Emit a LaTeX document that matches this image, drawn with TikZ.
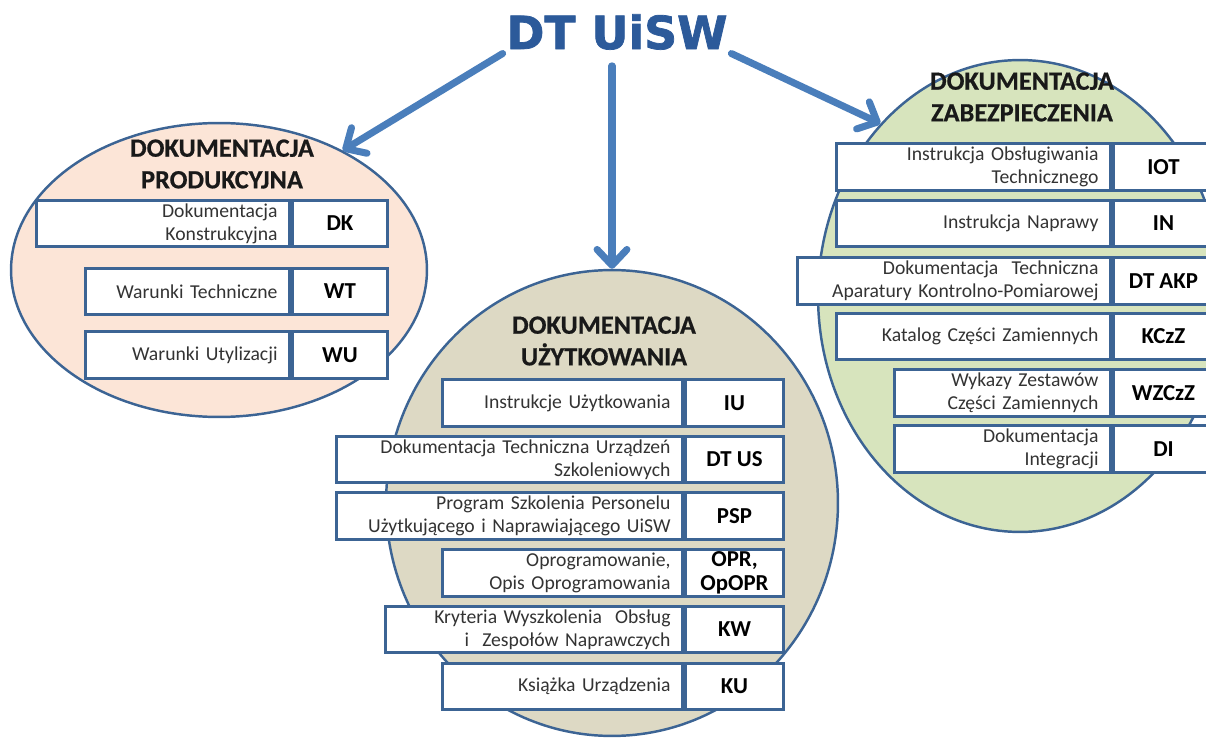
\documentclass[tikz,border=0pt]{standalone}
\usepackage{fontspec}
\setmainfont{Carlito}
\newfontfamily\titlefont{DejaVu Sans}[BoldFeatures={FakeBold=1.6}]
\newfontfamily\headfont{Carlito}[BoldFeatures={FakeBold=0.6}]
\usetikzlibrary{shapes.geometric, positioning, arrows.meta}

\definecolor{arrowblue}{HTML}{4A7EBB}
\definecolor{edgeblue}{HTML}{3C6494}
\definecolor{titleblue}{HTML}{2C5A9A}
\definecolor{prodfill}{HTML}{FCE5D7}
\definecolor{uzytfill}{HTML}{DDD9C4}
\definecolor{zabfill}{HTML}{D7E4BD}

\begin{document}
\begin{tikzpicture}[x=0.02cm, y=-0.02cm,
  area/.style={ellipse, draw=edgeblue, line width=1.4pt, inner sep=0pt},
  head/.style={align=center, text=black!90, font=\headfont\bfseries\fontsize{15}{18}\selectfont},
  txt/.style={rectangle, draw=edgeblue, fill=white, line width=1.7pt, anchor=east,
    minimum height=0.93cm, inner ysep=0pt, inner xsep=0.24cm, minimum width=#1,
    text width=#1-0.48cm, align=right, text=black!80, font=\fontsize{11.2}{13}\selectfont},
  abbr/.style={rectangle, draw=edgeblue, fill=white, line width=1.7pt,
    minimum height=0.93cm, inner sep=0pt, minimum width=#1, align=center,
    font=\bfseries\fontsize{13}{13.5}\selectfont},
  link/.style={draw=arrowblue, line width=4pt, line cap=round,
    -{Straight Barb[length=9pt, width=17pt, round]}}]

\useasboundingbox (0,0) rectangle (1206,749);
\clip (0,0) rectangle (1206,749);

\node[font=\titlefont\bfseries\fontsize{26}{30}\selectfont, text=titleblue, inner sep=2pt] (dt) at (617,32) {DT UiSW};

\node[area, fill=prodfill, minimum width=8.32cm, minimum height=5.88cm] (prod) at (219,270) {};
\node[area, fill=uzytfill, minimum width=9.04cm, minimum height=9.32cm] (uzyt) at (612,503) {};
\node[area, fill=zabfill, minimum width=8.08cm, minimum height=9.44cm] (zab) at (1020,296) {};

\node[head] (prodH) at (222,164) {DOKUMENTACJA\\PRODUKCYJNA};
\node[head] (uzytH) at (604,341) {DOKUMENTACJA\\UŻYTKOWANIA};
\node[head] (zabH) at (1022,97) {DOKUMENTACJA\\ZABEZPIECZENIA};

\node[txt=5.06cm] (dk) at (291,223.5) {Dokumentacja\\Konstrukcyjna};
\node[abbr=1.9cm, right=0pt of dk] (dkA) {DK};
\node[txt=4.08cm] (wt) at (291,291.5) {Warunki Techniczne};
\node[abbr=1.9cm, right=0pt of wt] (wtA) {WT};
\node[txt=4.08cm] (wu) at (291,355) {Warunki Utylizacji};
\node[abbr=1.9cm, right=0pt of wu] (wuA) {WU};

\node[txt=4.8cm] (iu) at (684,403) {Instrukcje Użytkowania};
\node[abbr=1.96cm, right=0pt of iu] (iuA) {IU};
\node[txt=6.92cm] (dtus) at (684,459.5) {Dokumentacja Techniczna Urządzeń\\Szkoleniowych};
\node[abbr=1.96cm, right=0pt of dtus] (dtusA) {DT US};
\node[txt=6.92cm] (psp) at (684,516) {Program Szkolenia Personelu\\Użytkującego i Naprawiającego UiSW};
\node[abbr=1.96cm, right=0pt of psp] (pspA) {PSP};
\node[txt=4.8cm] (opr) at (684,573) {Oprogramowanie,\\Opis Oprogramowania};
\node[abbr=1.96cm, right=0pt of opr] (oprA) {OPR,\\OpOPR};
\node[txt=5.94cm] (kw) at (684,629.5) {Kryteria Wyszkolenia~ Obsług\\i~ Zespołów Naprawczych};
\node[abbr=1.96cm, right=0pt of kw] (kwA) {KW};
\node[txt=4.8cm] (ku) at (684,686.5) {Książka Urządzenia};
\node[abbr=1.96cm, right=0pt of ku] (kuA) {KU};

\node[txt=5.48cm] (iot) at (1112,167) {Instrukcja Obsługiwania\\Technicznego};
\node[abbr=2cm, right=0pt of iot] (iotA) {IOT};
\node[txt=5.48cm] (in) at (1112,223.5) {Instrukcja Naprawy};
\node[abbr=2cm, right=0pt of in] (inA) {IN};
\node[txt=6.26cm] (akp) at (1112,281) {Dokumentacja~ Techniczna\\Aparatury Kontrolno-Pomiarowej};
\node[abbr=2cm, right=0pt of akp] (akpA) {DT AKP};
\node[txt=5.48cm] (kczz) at (1112,336.5) {Katalog Części Zamiennych};
\node[abbr=2cm, right=0pt of kczz] (kczzA) {KCzZ};
\node[txt=4.32cm] (wzczz) at (1112,393) {Wykazy Zestawów\\Części Zamiennych};
\node[abbr=2cm, right=0pt of wzczz] (wzczzA) {WZCzZ};
\node[txt=4.32cm] (di) at (1112,449) {Dokumentacja\\Integracji};
\node[abbr=2cm, right=0pt of di] (diA) {DI};

\draw[link] (dt.south west) -- (prod.44);
\draw[link, shorten <=7pt] (dt.south -| uzyt.north) -- (uzyt.north);
\draw[link] (dt.south east) -- (zab.129);

\end{tikzpicture}
\end{document}
